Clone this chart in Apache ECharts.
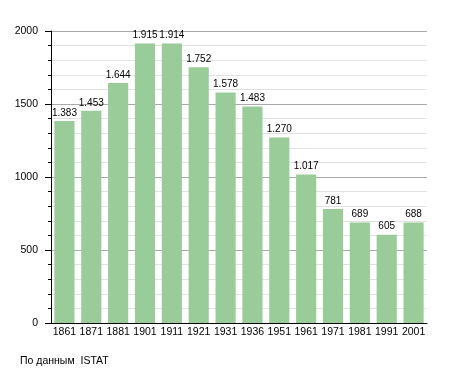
<!DOCTYPE html>
<html><head><meta charset="utf-8">
<script src="https://cdn.jsdelivr.net/npm/echarts@6/dist/echarts.min.js"></script>
<style>html,body{margin:0;padding:0;background:#fff}#c{width:455px;height:373px}</style>
</head><body><div id="c"></div>
<script>
const years = ['1861','1871','1881','1901','1911','1921','1931','1936','1951','1961','1971','1981','1991','2001'];
const population = [1383,1453,1644,1915,1914,1752,1578,1483,1270,1017,781,689,605,688];
const yTicks = [0, 500, 1000, 1500, 2000];
const sourceText = 'По данным  ISTAT';

function fmt(v){ return String(v).replace(/\B(?=(\d{3})+(?!\d))/g, '.'); }

const chart = echarts.init(document.getElementById('c'), null, {renderer:'canvas'});
chart.setOption({
  animation:false,
  textStyle:{fontFamily:'Liberation Sans, Arial, sans-serif'},
  grid:{left:51, right:28, top:31, bottom:50, containLabel:false},
  graphic:[{type:'text', left:20, top:356, style:{text:sourceText, fill:'#000', font:'10.5px Liberation Sans, Arial, sans-serif'}}],
  xAxis:{type:'category', data:years,
    axisLine:{lineStyle:{color:'#000', width:1}},
    axisTick:{show:false},
    axisLabel:{color:'#000', fontSize:10.5, margin:4, interval:0}},
  yAxis:{type:'value', min:yTicks[0], max:yTicks[yTicks.length-1], interval:500,
    axisLine:{show:true, lineStyle:{color:'#000'}},
    axisTick:{show:true, length:6, lineStyle:{color:'#000'}},
    minorTick:{show:true, splitNumber:5, length:3, lineStyle:{color:'#000'}},
    splitLine:{show:true, lineStyle:{color:'#aaa', width:1}},
    minorSplitLine:{show:true, lineStyle:{color:'#e2e2e2', width:1}},
    axisLabel:{color:'#000', fontSize:10.5, margin:13, formatter:v=>String(v)}},
  series:[{type:'bar', data:population, barCategoryGap:'25%',
    itemStyle:{color:'#99cc99'},
    label:{show:true, position:'top', distance:3, color:'#000', fontSize:10, formatter:p=>fmt(p.value)}}]
});
</script></body></html>
